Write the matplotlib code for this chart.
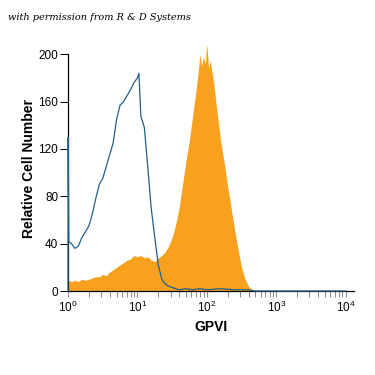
import matplotlib
matplotlib.use("Agg")
import matplotlib.pyplot as plt
import numpy as np
from matplotlib.ticker import LogLocator, NullFormatter, FixedLocator

# GPVI stained (orange, filled)
gpvi_x = [1.00, 1.12, 1.26, 1.41, 1.58, 1.78, 2.00, 2.24, 2.51, 2.82,
          3.16, 3.55, 3.98, 4.47, 5.01, 5.62, 6.31, 7.08, 7.94, 8.91,
          10.0, 11.2, 12.6, 14.1, 15.8, 17.8, 20.0, 22.4, 25.1, 28.2,
          31.6, 35.5, 39.8, 44.7, 50.1, 56.2, 63.1, 70.8, 75.0, 79.4, 84.0, 89.1,
          95.0, 100.0, 106.0, 112.0, 126.0, 141.0, 158.0, 178.0, 200.0, 224.0, 251.0, 282.0,
          316.0, 355.0, 398.0, 447.0, 501.0]
gpvi_y = [9, 8, 9, 8, 10, 9, 10, 11, 12, 12,
          14, 13, 16, 18, 20, 22, 24, 26, 27, 30,
          29, 30, 28, 29, 26, 25, 28, 30, 33, 38,
          45, 56, 70, 90, 110, 128, 150, 172, 185, 200, 190, 198,
          192, 209, 188, 195, 175, 150, 127, 108, 88, 70, 52, 35,
          20, 10, 4, 1, 0]

# Isotype control (blue outline)
iso_x = [1.00, 1.005, 1.03, 1.12, 1.26, 1.41, 1.58, 1.78, 2.00, 2.24, 2.51, 2.82,
         3.16, 3.55, 3.98, 4.47, 5.01, 5.62, 6.31, 7.08, 7.94, 8.91,
         10.0, 10.5, 11.2, 12.6, 14.1, 15.8, 17.8, 20.0, 22.4, 25.1, 28.2,
         31.6, 35.5, 39.8, 50.1, 63.1, 79.4, 100.0, 158.0, 251.0, 398.0,
         501.0, 1000.0, 10000.0]
iso_y = [0, 130, 42, 40, 36, 38, 45, 50, 55, 65, 78, 90,
         95, 105, 115, 125, 145, 157, 160, 165, 170, 176,
         180, 184, 148, 138, 105, 70, 45, 22, 10, 6, 4,
         3, 2, 1, 2, 1, 2, 1, 2, 1, 1,
         0, 0, 0]

x_ticks = [1, 10, 100, 1000, 10000]
x_tick_labels = ['10$^0$', '10$^1$', '10$^2$', '10$^3$', '10$^4$']
y_ticks = [0, 40, 80, 120, 160, 200]

plt.rcParams['font.family'] = ['Liberation Sans', 'DejaVu Sans']
plt.rcParams['mathtext.fontset'] = 'custom'
plt.rcParams['mathtext.rm'] = 'Liberation Sans'
plt.rcParams['mathtext.it'] = 'Liberation Sans:italic'
plt.rcParams['mathtext.bf'] = 'Liberation Sans:bold'

fig = plt.figure(figsize=(3.75, 3.75), dpi=100)
ax = fig.add_axes([68/375, 84/375, (354-68)/375, (291-46)/375])

ax.fill_between(gpvi_x, gpvi_y, color='#F7A11F', linewidth=0)
ax.plot(iso_x, iso_y, color='#245F8A', linewidth=0.9, zorder=3, clip_on=False)

ax.set_xscale('log')
ax.set_xlim(1, 10**4.12)
ax.set_ylim(0, 207)

ax.spines['top'].set_visible(False)
ax.spines['right'].set_visible(False)
ax.spines['left'].set_bounds(0, 200)
ax.spines['left'].set_linewidth(0.9)
ax.spines['bottom'].set_linewidth(0.9)

ax.xaxis.set_major_locator(FixedLocator(x_ticks))
ax.set_xticklabels(x_tick_labels)
ax.xaxis.set_minor_locator(LogLocator(base=10, subs=np.arange(2, 10)))
ax.xaxis.set_minor_formatter(NullFormatter())
ax.set_yticks(y_ticks)

ax.tick_params(axis='x', which='both', direction='out', length=4, width=0.6,
               colors='#777777', labelcolor='black', labelsize=8.5, pad=2)
ax.tick_params(axis='y', which='major', direction='out', length=6, width=0.7,
               labelsize=8.5, pad=1)

ax.set_xlabel('GPVI', fontsize=10, fontweight='bold', labelpad=4)
ax.set_ylabel('Relative Cell Number', fontsize=10, fontweight='bold', labelpad=2)

fig.text(8/375, 1 - 17/375, 'with permission from R & D Systems',
         fontsize=7, style='italic', family='DejaVu Serif', va='center', ha='left')

fig.savefig('out.png', dpi=100)
